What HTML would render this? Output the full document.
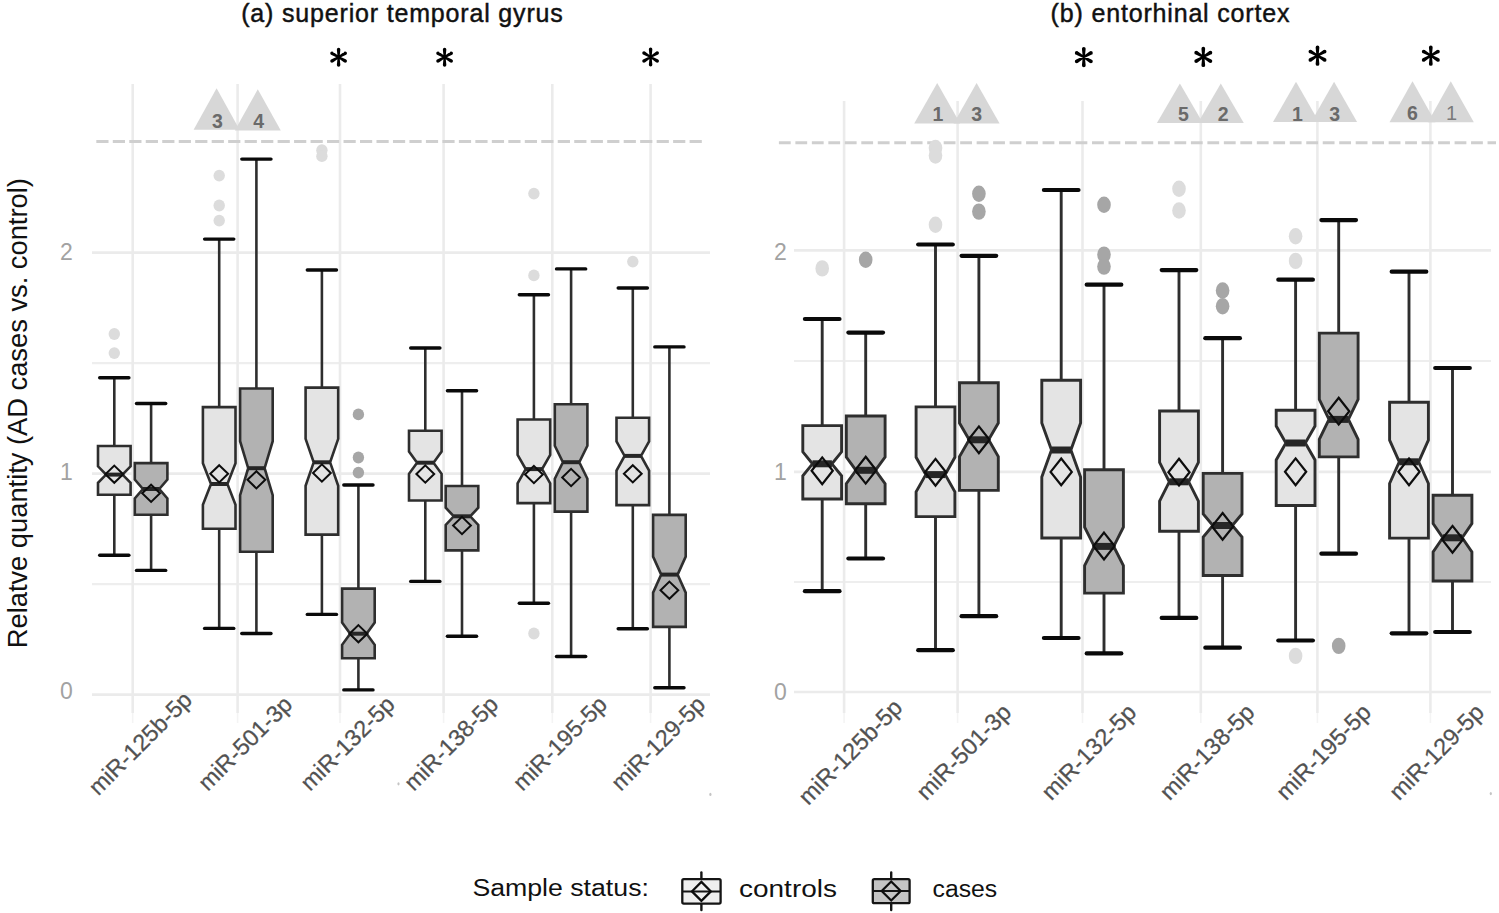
<!DOCTYPE html>
<html><head><meta charset="utf-8"><title>Relative quantity boxplots</title>
<style>html,body{margin:0;padding:0;background:#fff;}svg{display:block;}
text{font-family:"Liberation Sans",sans-serif;}</style></head>
<body>
<svg width="1499" height="913" viewBox="0 0 1499 913">
<rect width="1499" height="913" fill="#fff"/>
<g font-family="Liberation Sans, sans-serif">
<line x1="92" y1="252.7" x2="710" y2="252.7" stroke="#ebebeb" stroke-width="2.7"/>
<line x1="92" y1="363.2" x2="710" y2="363.2" stroke="#eeeeee" stroke-width="2.2"/>
<line x1="92" y1="473.7" x2="710" y2="473.7" stroke="#ebebeb" stroke-width="2.7"/>
<line x1="92" y1="584.2" x2="710" y2="584.2" stroke="#eeeeee" stroke-width="2.2"/>
<line x1="92" y1="694.7" x2="710" y2="694.7" stroke="#ebebeb" stroke-width="2.7"/>
<line x1="132.7" y1="84" x2="132.7" y2="713" stroke="#ebebeb" stroke-width="2.6"/>
<line x1="132.7" y1="713" x2="132.7" y2="723" stroke="#f4f4f4" stroke-width="1.6"/>
<line x1="237.6" y1="84" x2="237.6" y2="713" stroke="#ebebeb" stroke-width="2.6"/>
<line x1="237.6" y1="713" x2="237.6" y2="723" stroke="#f4f4f4" stroke-width="1.6"/>
<line x1="340" y1="84" x2="340" y2="713" stroke="#ebebeb" stroke-width="2.6"/>
<line x1="340" y1="713" x2="340" y2="723" stroke="#f4f4f4" stroke-width="1.6"/>
<line x1="443.6" y1="84" x2="443.6" y2="713" stroke="#ebebeb" stroke-width="2.6"/>
<line x1="443.6" y1="713" x2="443.6" y2="723" stroke="#f4f4f4" stroke-width="1.6"/>
<line x1="552.3" y1="84" x2="552.3" y2="713" stroke="#ebebeb" stroke-width="2.6"/>
<line x1="552.3" y1="713" x2="552.3" y2="723" stroke="#f4f4f4" stroke-width="1.6"/>
<line x1="650.6" y1="84" x2="650.6" y2="713" stroke="#ebebeb" stroke-width="2.6"/>
<line x1="650.6" y1="713" x2="650.6" y2="723" stroke="#f4f4f4" stroke-width="1.6"/>
<line x1="794" y1="250.3" x2="1491" y2="250.3" stroke="#ebebeb" stroke-width="2.7"/>
<line x1="794" y1="361" x2="1491" y2="361" stroke="#eeeeee" stroke-width="2.2"/>
<line x1="794" y1="471.8" x2="1491" y2="471.8" stroke="#ebebeb" stroke-width="2.7"/>
<line x1="794" y1="582" x2="1491" y2="582" stroke="#eeeeee" stroke-width="2.2"/>
<line x1="794" y1="692" x2="1491" y2="692" stroke="#ebebeb" stroke-width="2.7"/>
<line x1="844.1" y1="101" x2="844.1" y2="713" stroke="#ebebeb" stroke-width="2.6"/>
<line x1="844.1" y1="713" x2="844.1" y2="723" stroke="#f4f4f4" stroke-width="1.6"/>
<line x1="957.6" y1="101" x2="957.6" y2="713" stroke="#ebebeb" stroke-width="2.6"/>
<line x1="957.6" y1="713" x2="957.6" y2="723" stroke="#f4f4f4" stroke-width="1.6"/>
<line x1="1082.5" y1="101" x2="1082.5" y2="713" stroke="#ebebeb" stroke-width="2.6"/>
<line x1="1082.5" y1="713" x2="1082.5" y2="723" stroke="#f4f4f4" stroke-width="1.6"/>
<line x1="1200.8" y1="101" x2="1200.8" y2="713" stroke="#ebebeb" stroke-width="2.6"/>
<line x1="1200.8" y1="713" x2="1200.8" y2="723" stroke="#f4f4f4" stroke-width="1.6"/>
<line x1="1317.4" y1="101" x2="1317.4" y2="713" stroke="#ebebeb" stroke-width="2.6"/>
<line x1="1317.4" y1="713" x2="1317.4" y2="723" stroke="#f4f4f4" stroke-width="1.6"/>
<line x1="1430.4" y1="101" x2="1430.4" y2="713" stroke="#ebebeb" stroke-width="2.6"/>
<line x1="1430.4" y1="713" x2="1430.4" y2="723" stroke="#f4f4f4" stroke-width="1.6"/>
<line x1="92.8" y1="141.6" x2="702" y2="141.6" stroke="#cfcfcf" stroke-width="3" stroke-dasharray="12.2 4.28" stroke-dashoffset="12.96"/>
<line x1="778.9" y1="142.8" x2="1496" y2="142.8" stroke="#cfcfcf" stroke-width="3" stroke-dasharray="11.8 4.68"/>
<path d="M216.6,88.2 L239.6,129.8 L193.6,129.8 Z" fill="#d7d7d7"/>
<path d="M257.8,89.2 L280.8,130.4 L234.8,130.4 Z" fill="#d7d7d7"/>
<path d="M937.2,83 L960.2,123.4 L914.2,123.4 Z" fill="#d7d7d7"/>
<path d="M976.6,83 L999.6,123.4 L953.6,123.4 Z" fill="#d7d7d7"/>
<path d="M1179.9,83.4 L1202.9,123.1 L1156.9,123.1 Z" fill="#d7d7d7"/>
<path d="M1220.8,83.4 L1243.8,123.1 L1197.8,123.1 Z" fill="#d7d7d7"/>
<path d="M1296,81.7 L1319,122.1 L1273,122.1 Z" fill="#d7d7d7"/>
<path d="M1334.1,81.7 L1357.1,122.1 L1311.1,122.1 Z" fill="#d7d7d7"/>
<path d="M1412.5,81.3 L1435.5,122.3 L1389.5,122.3 Z" fill="#d7d7d7"/>
<path d="M1450.8,81.3 L1473.8,122.3 L1427.8,122.3 Z" fill="#d7d7d7"/>
<text x="217.4" y="120.7" text-anchor="middle" dominant-baseline="central" font-size="19.5" font-weight="bold" fill="#6a6a6a">3</text>
<text x="258.6" y="120.7" text-anchor="middle" dominant-baseline="central" font-size="19.5" font-weight="bold" fill="#6a6a6a">4</text>
<text x="938" y="114.4" text-anchor="middle" dominant-baseline="central" font-size="19.5" font-weight="bold" fill="#6a6a6a">1</text>
<text x="976.6" y="114.4" text-anchor="middle" dominant-baseline="central" font-size="19.5" font-weight="bold" fill="#6a6a6a">3</text>
<text x="1183.4" y="114.2" text-anchor="middle" dominant-baseline="central" font-size="19.5" font-weight="bold" fill="#6a6a6a">5</text>
<text x="1223.2" y="114.2" text-anchor="middle" dominant-baseline="central" font-size="19.5" font-weight="bold" fill="#6a6a6a">2</text>
<text x="1297.5" y="114.2" text-anchor="middle" dominant-baseline="central" font-size="19.5" font-weight="bold" fill="#6a6a6a">1</text>
<text x="1334.8" y="114.2" text-anchor="middle" dominant-baseline="central" font-size="19.5" font-weight="bold" fill="#6a6a6a">3</text>
<text x="1412.5" y="112.9" text-anchor="middle" dominant-baseline="central" font-size="19.5" font-weight="bold" fill="#6a6a6a">6</text>
<text x="1451.5" y="112.9" text-anchor="middle" dominant-baseline="central" font-size="20" fill="#7a7a7a">1</text>
<path d="M339.6,57.2 L340.35,49.5 L336.85,49.5 L337.6,57.2 Z M336.85,49.5 a1.75,1.75 0 1,0 3.5,0 a1.75,1.75 0 1,0 -3.5,0 M337.6,57.2 L336.85,64.9 L340.35,64.9 L339.6,57.2 Z M336.85,64.9 a1.75,1.75 0 1,0 3.5,0 a1.75,1.75 0 1,0 -3.5,0 M339.12,58.06 L346.15,54.79 L344.34,51.79 L338.08,56.34 Z M343.49,53.29 a1.75,1.75 0 1,0 3.5,0 a1.75,1.75 0 1,0 -3.5,0 M338.08,56.34 L331.05,59.61 L332.86,62.61 L339.12,58.06 Z M330.21,61.11 a1.75,1.75 0 1,0 3.5,0 a1.75,1.75 0 1,0 -3.5,0 M338.08,58.06 L344.34,62.61 L346.15,59.61 L339.12,56.34 Z M343.49,61.11 a1.75,1.75 0 1,0 3.5,0 a1.75,1.75 0 1,0 -3.5,0 M339.12,56.34 L332.86,51.79 L331.05,54.79 L338.08,58.06 Z M330.21,53.29 a1.75,1.75 0 1,0 3.5,0 a1.75,1.75 0 1,0 -3.5,0 M336.9,57.2 a1.7,1.7 0 1,0 3.4,0 a1.7,1.7 0 1,0 -3.4,0" fill="#000"/>
<path d="M445.6,57.2 L446.35,49.5 L442.85,49.5 L443.6,57.2 Z M442.85,49.5 a1.75,1.75 0 1,0 3.5,0 a1.75,1.75 0 1,0 -3.5,0 M443.6,57.2 L442.85,64.9 L446.35,64.9 L445.6,57.2 Z M442.85,64.9 a1.75,1.75 0 1,0 3.5,0 a1.75,1.75 0 1,0 -3.5,0 M445.12,58.06 L452.15,54.79 L450.34,51.79 L444.08,56.34 Z M449.49,53.29 a1.75,1.75 0 1,0 3.5,0 a1.75,1.75 0 1,0 -3.5,0 M444.08,56.34 L437.05,59.61 L438.86,62.61 L445.12,58.06 Z M436.21,61.11 a1.75,1.75 0 1,0 3.5,0 a1.75,1.75 0 1,0 -3.5,0 M444.08,58.06 L450.34,62.61 L452.15,59.61 L445.12,56.34 Z M449.49,61.11 a1.75,1.75 0 1,0 3.5,0 a1.75,1.75 0 1,0 -3.5,0 M445.12,56.34 L438.86,51.79 L437.05,54.79 L444.08,58.06 Z M436.21,53.29 a1.75,1.75 0 1,0 3.5,0 a1.75,1.75 0 1,0 -3.5,0 M442.9,57.2 a1.7,1.7 0 1,0 3.4,0 a1.7,1.7 0 1,0 -3.4,0" fill="#000"/>
<path d="M651.6,57 L652.35,49.3 L648.85,49.3 L649.6,57 Z M648.85,49.3 a1.75,1.75 0 1,0 3.5,0 a1.75,1.75 0 1,0 -3.5,0 M649.6,57 L648.85,64.7 L652.35,64.7 L651.6,57 Z M648.85,64.7 a1.75,1.75 0 1,0 3.5,0 a1.75,1.75 0 1,0 -3.5,0 M651.12,57.86 L658.15,54.59 L656.34,51.59 L650.08,56.14 Z M655.49,53.09 a1.75,1.75 0 1,0 3.5,0 a1.75,1.75 0 1,0 -3.5,0 M650.08,56.14 L643.05,59.41 L644.86,62.41 L651.12,57.86 Z M642.21,60.91 a1.75,1.75 0 1,0 3.5,0 a1.75,1.75 0 1,0 -3.5,0 M650.08,57.86 L656.34,62.41 L658.15,59.41 L651.12,56.14 Z M655.49,60.91 a1.75,1.75 0 1,0 3.5,0 a1.75,1.75 0 1,0 -3.5,0 M651.12,56.14 L644.86,51.59 L643.05,54.59 L650.08,57.86 Z M642.21,53.09 a1.75,1.75 0 1,0 3.5,0 a1.75,1.75 0 1,0 -3.5,0 M648.9,57 a1.7,1.7 0 1,0 3.4,0 a1.7,1.7 0 1,0 -3.4,0" fill="#000"/>
<path d="M1084.87,57.1 L1085.67,48.86 L1081.93,48.86 L1082.73,57.1 Z M1081.93,48.86 a1.87,1.87 0 1,0 3.75,0 a1.87,1.87 0 1,0 -3.75,0 M1082.73,57.1 L1081.93,65.34 L1085.67,65.34 L1084.87,57.1 Z M1081.93,65.34 a1.87,1.87 0 1,0 3.75,0 a1.87,1.87 0 1,0 -3.75,0 M1084.35,58.02 L1091.87,54.52 L1089.95,51.31 L1083.25,56.18 Z M1089.04,52.91 a1.87,1.87 0 1,0 3.75,0 a1.87,1.87 0 1,0 -3.75,0 M1083.25,56.18 L1075.73,59.68 L1077.65,62.89 L1084.35,58.02 Z M1074.82,61.29 a1.87,1.87 0 1,0 3.75,0 a1.87,1.87 0 1,0 -3.75,0 M1083.25,58.02 L1089.95,62.89 L1091.87,59.68 L1084.35,56.18 Z M1089.04,61.29 a1.87,1.87 0 1,0 3.75,0 a1.87,1.87 0 1,0 -3.75,0 M1084.35,56.18 L1077.65,51.31 L1075.73,54.52 L1083.25,58.02 Z M1074.82,52.91 a1.87,1.87 0 1,0 3.75,0 a1.87,1.87 0 1,0 -3.75,0 M1082.1,57.1 a1.7,1.7 0 1,0 3.4,0 a1.7,1.7 0 1,0 -3.4,0" fill="#000"/>
<path d="M1204.37,56.9 L1205.17,48.66 L1201.43,48.66 L1202.23,56.9 Z M1201.43,48.66 a1.87,1.87 0 1,0 3.75,0 a1.87,1.87 0 1,0 -3.75,0 M1202.23,56.9 L1201.43,65.14 L1205.17,65.14 L1204.37,56.9 Z M1201.43,65.14 a1.87,1.87 0 1,0 3.75,0 a1.87,1.87 0 1,0 -3.75,0 M1203.85,57.82 L1211.37,54.32 L1209.45,51.11 L1202.75,55.98 Z M1208.54,52.71 a1.87,1.87 0 1,0 3.75,0 a1.87,1.87 0 1,0 -3.75,0 M1202.75,55.98 L1195.23,59.48 L1197.15,62.69 L1203.85,57.82 Z M1194.32,61.09 a1.87,1.87 0 1,0 3.75,0 a1.87,1.87 0 1,0 -3.75,0 M1202.75,57.82 L1209.45,62.69 L1211.37,59.48 L1203.85,55.98 Z M1208.54,61.09 a1.87,1.87 0 1,0 3.75,0 a1.87,1.87 0 1,0 -3.75,0 M1203.85,55.98 L1197.15,51.11 L1195.23,54.32 L1202.75,57.82 Z M1194.32,52.71 a1.87,1.87 0 1,0 3.75,0 a1.87,1.87 0 1,0 -3.75,0 M1201.6,56.9 a1.7,1.7 0 1,0 3.4,0 a1.7,1.7 0 1,0 -3.4,0" fill="#000"/>
<path d="M1318.57,55.7 L1319.37,47.46 L1315.63,47.46 L1316.43,55.7 Z M1315.63,47.46 a1.87,1.87 0 1,0 3.75,0 a1.87,1.87 0 1,0 -3.75,0 M1316.43,55.7 L1315.63,63.94 L1319.37,63.94 L1318.57,55.7 Z M1315.63,63.94 a1.87,1.87 0 1,0 3.75,0 a1.87,1.87 0 1,0 -3.75,0 M1318.05,56.62 L1325.57,53.12 L1323.65,49.91 L1316.95,54.78 Z M1322.74,51.51 a1.87,1.87 0 1,0 3.75,0 a1.87,1.87 0 1,0 -3.75,0 M1316.95,54.78 L1309.43,58.28 L1311.35,61.49 L1318.05,56.62 Z M1308.52,59.89 a1.87,1.87 0 1,0 3.75,0 a1.87,1.87 0 1,0 -3.75,0 M1316.95,56.62 L1323.65,61.49 L1325.57,58.28 L1318.05,54.78 Z M1322.74,59.89 a1.87,1.87 0 1,0 3.75,0 a1.87,1.87 0 1,0 -3.75,0 M1318.05,54.78 L1311.35,49.91 L1309.43,53.12 L1316.95,56.62 Z M1308.52,51.51 a1.87,1.87 0 1,0 3.75,0 a1.87,1.87 0 1,0 -3.75,0 M1315.8,55.7 a1.7,1.7 0 1,0 3.4,0 a1.7,1.7 0 1,0 -3.4,0" fill="#000"/>
<path d="M1431.87,55.7 L1432.67,47.46 L1428.93,47.46 L1429.73,55.7 Z M1428.93,47.46 a1.87,1.87 0 1,0 3.75,0 a1.87,1.87 0 1,0 -3.75,0 M1429.73,55.7 L1428.93,63.94 L1432.67,63.94 L1431.87,55.7 Z M1428.93,63.94 a1.87,1.87 0 1,0 3.75,0 a1.87,1.87 0 1,0 -3.75,0 M1431.35,56.62 L1438.87,53.12 L1436.95,49.91 L1430.25,54.78 Z M1436.04,51.51 a1.87,1.87 0 1,0 3.75,0 a1.87,1.87 0 1,0 -3.75,0 M1430.25,54.78 L1422.73,58.28 L1424.65,61.49 L1431.35,56.62 Z M1421.82,59.89 a1.87,1.87 0 1,0 3.75,0 a1.87,1.87 0 1,0 -3.75,0 M1430.25,56.62 L1436.95,61.49 L1438.87,58.28 L1431.35,54.78 Z M1436.04,59.89 a1.87,1.87 0 1,0 3.75,0 a1.87,1.87 0 1,0 -3.75,0 M1431.35,54.78 L1424.65,49.91 L1422.73,53.12 L1430.25,56.62 Z M1421.82,51.51 a1.87,1.87 0 1,0 3.75,0 a1.87,1.87 0 1,0 -3.75,0 M1429.1,55.7 a1.7,1.7 0 1,0 3.4,0 a1.7,1.7 0 1,0 -3.4,0" fill="#000"/>
<line x1="114.3" y1="377.8" x2="114.3" y2="446" stroke="#2e2e2e" stroke-width="2.6"/>
<line x1="114.3" y1="494.8" x2="114.3" y2="555.2" stroke="#2e2e2e" stroke-width="2.6"/>
<line x1="99.7" y1="377.8" x2="128.9" y2="377.8" stroke="#0a0a0a" stroke-width="3.4" stroke-linecap="round"/>
<line x1="99.7" y1="555.2" x2="128.9" y2="555.2" stroke="#0a0a0a" stroke-width="3.4" stroke-linecap="round"/>
<line x1="151.1" y1="403.5" x2="151.1" y2="463.1" stroke="#2e2e2e" stroke-width="2.6"/>
<line x1="151.1" y1="514.7" x2="151.1" y2="570.4" stroke="#2e2e2e" stroke-width="2.6"/>
<line x1="136.5" y1="403.5" x2="165.7" y2="403.5" stroke="#0a0a0a" stroke-width="3.4" stroke-linecap="round"/>
<line x1="136.5" y1="570.4" x2="165.7" y2="570.4" stroke="#0a0a0a" stroke-width="3.4" stroke-linecap="round"/>
<line x1="219.2" y1="239.1" x2="219.2" y2="407.1" stroke="#2e2e2e" stroke-width="2.6"/>
<line x1="219.2" y1="528.7" x2="219.2" y2="628.4" stroke="#2e2e2e" stroke-width="2.6"/>
<line x1="204.6" y1="239.1" x2="233.8" y2="239.1" stroke="#0a0a0a" stroke-width="3.4" stroke-linecap="round"/>
<line x1="204.6" y1="628.4" x2="233.8" y2="628.4" stroke="#0a0a0a" stroke-width="3.4" stroke-linecap="round"/>
<line x1="256.4" y1="159.1" x2="256.4" y2="388.5" stroke="#2e2e2e" stroke-width="2.6"/>
<line x1="256.4" y1="551.7" x2="256.4" y2="633.5" stroke="#2e2e2e" stroke-width="2.6"/>
<line x1="241.8" y1="159.1" x2="271" y2="159.1" stroke="#0a0a0a" stroke-width="3.4" stroke-linecap="round"/>
<line x1="241.8" y1="633.5" x2="271" y2="633.5" stroke="#0a0a0a" stroke-width="3.4" stroke-linecap="round"/>
<line x1="321.9" y1="270" x2="321.9" y2="387.6" stroke="#2e2e2e" stroke-width="2.6"/>
<line x1="321.9" y1="534.6" x2="321.9" y2="614.4" stroke="#2e2e2e" stroke-width="2.6"/>
<line x1="307.3" y1="270" x2="336.5" y2="270" stroke="#0a0a0a" stroke-width="3.4" stroke-linecap="round"/>
<line x1="307.3" y1="614.4" x2="336.5" y2="614.4" stroke="#0a0a0a" stroke-width="3.4" stroke-linecap="round"/>
<line x1="358.4" y1="485" x2="358.4" y2="588.6" stroke="#2e2e2e" stroke-width="2.6"/>
<line x1="358.4" y1="658.3" x2="358.4" y2="689.9" stroke="#2e2e2e" stroke-width="2.6"/>
<line x1="343.8" y1="485" x2="373" y2="485" stroke="#0a0a0a" stroke-width="3.4" stroke-linecap="round"/>
<line x1="343.8" y1="689.9" x2="373" y2="689.9" stroke="#0a0a0a" stroke-width="3.4" stroke-linecap="round"/>
<line x1="425.3" y1="348" x2="425.3" y2="430.7" stroke="#2e2e2e" stroke-width="2.6"/>
<line x1="425.3" y1="500.5" x2="425.3" y2="581.4" stroke="#2e2e2e" stroke-width="2.6"/>
<line x1="410.7" y1="348" x2="439.9" y2="348" stroke="#0a0a0a" stroke-width="3.4" stroke-linecap="round"/>
<line x1="410.7" y1="581.4" x2="439.9" y2="581.4" stroke="#0a0a0a" stroke-width="3.4" stroke-linecap="round"/>
<line x1="462" y1="390.7" x2="462" y2="486" stroke="#2e2e2e" stroke-width="2.6"/>
<line x1="462" y1="550.4" x2="462" y2="636.3" stroke="#2e2e2e" stroke-width="2.6"/>
<line x1="447.4" y1="390.7" x2="476.6" y2="390.7" stroke="#0a0a0a" stroke-width="3.4" stroke-linecap="round"/>
<line x1="447.4" y1="636.3" x2="476.6" y2="636.3" stroke="#0a0a0a" stroke-width="3.4" stroke-linecap="round"/>
<line x1="533.9" y1="294.8" x2="533.9" y2="419.5" stroke="#2e2e2e" stroke-width="2.6"/>
<line x1="533.9" y1="503.1" x2="533.9" y2="603.3" stroke="#2e2e2e" stroke-width="2.6"/>
<line x1="519.3" y1="294.8" x2="548.5" y2="294.8" stroke="#0a0a0a" stroke-width="3.4" stroke-linecap="round"/>
<line x1="519.3" y1="603.3" x2="548.5" y2="603.3" stroke="#0a0a0a" stroke-width="3.4" stroke-linecap="round"/>
<line x1="571.1" y1="268.9" x2="571.1" y2="404.2" stroke="#2e2e2e" stroke-width="2.6"/>
<line x1="571.1" y1="511.6" x2="571.1" y2="656.5" stroke="#2e2e2e" stroke-width="2.6"/>
<line x1="556.5" y1="268.9" x2="585.7" y2="268.9" stroke="#0a0a0a" stroke-width="3.4" stroke-linecap="round"/>
<line x1="556.5" y1="656.5" x2="585.7" y2="656.5" stroke="#0a0a0a" stroke-width="3.4" stroke-linecap="round"/>
<line x1="632.8" y1="288" x2="632.8" y2="417.8" stroke="#2e2e2e" stroke-width="2.6"/>
<line x1="632.8" y1="505.1" x2="632.8" y2="628.7" stroke="#2e2e2e" stroke-width="2.6"/>
<line x1="618.2" y1="288" x2="647.4" y2="288" stroke="#0a0a0a" stroke-width="3.4" stroke-linecap="round"/>
<line x1="618.2" y1="628.7" x2="647.4" y2="628.7" stroke="#0a0a0a" stroke-width="3.4" stroke-linecap="round"/>
<line x1="669.4" y1="346.9" x2="669.4" y2="514.9" stroke="#2e2e2e" stroke-width="2.6"/>
<line x1="669.4" y1="626.9" x2="669.4" y2="687.7" stroke="#2e2e2e" stroke-width="2.6"/>
<line x1="654.8" y1="346.9" x2="684" y2="346.9" stroke="#0a0a0a" stroke-width="3.4" stroke-linecap="round"/>
<line x1="654.8" y1="687.7" x2="684" y2="687.7" stroke="#0a0a0a" stroke-width="3.4" stroke-linecap="round"/>
<ellipse cx="114.3" cy="334" rx="5.7" ry="5.9" fill="#dcdcdc"/>
<ellipse cx="114.3" cy="353.1" rx="5.7" ry="5.9" fill="#dcdcdc"/>
<ellipse cx="219.2" cy="175.6" rx="5.7" ry="5.9" fill="#dcdcdc"/>
<ellipse cx="219.2" cy="205.5" rx="5.7" ry="5.9" fill="#dcdcdc"/>
<ellipse cx="219.2" cy="220.6" rx="5.7" ry="5.9" fill="#dcdcdc"/>
<ellipse cx="321.9" cy="150.2" rx="5.7" ry="5.9" fill="#dcdcdc"/>
<ellipse cx="321.9" cy="156.2" rx="5.7" ry="5.9" fill="#dcdcdc"/>
<ellipse cx="358.4" cy="414.4" rx="5.7" ry="5.9" fill="#a6a6a6"/>
<ellipse cx="358.4" cy="457.5" rx="5.7" ry="5.9" fill="#a6a6a6"/>
<ellipse cx="358.4" cy="472.6" rx="5.7" ry="5.9" fill="#a6a6a6"/>
<ellipse cx="533.9" cy="193.6" rx="5.7" ry="5.9" fill="#dcdcdc"/>
<ellipse cx="533.9" cy="275.4" rx="5.7" ry="5.9" fill="#dcdcdc"/>
<ellipse cx="533.9" cy="633.5" rx="5.7" ry="5.9" fill="#dcdcdc"/>
<ellipse cx="632.8" cy="261.6" rx="5.7" ry="5.9" fill="#dcdcdc"/>
<path d="M98,446 L130.6,446 L130.6,466.3 L122.5,474.6 L130.6,482.9 L130.6,494.8 L98,494.8 L98,482.9 L106.1,474.6 L98,466.3 Z" fill="#e4e4e4" stroke="#2e2e2e" stroke-width="2.6" stroke-linejoin="miter"/>
<line x1="106.1" y1="474.6" x2="122.5" y2="474.6" stroke="#262626" stroke-width="4"/>
<path d="M134.8,463.1 L167.4,463.1 L167.4,479.5 L159.3,489 L167.4,498.5 L167.4,514.7 L134.8,514.7 L134.8,498.5 L142.9,489 L134.8,479.5 Z" fill="#b2b2b2" stroke="#2e2e2e" stroke-width="2.6" stroke-linejoin="miter"/>
<line x1="142.9" y1="489" x2="159.3" y2="489" stroke="#262626" stroke-width="4"/>
<path d="M202.9,407.1 L235.5,407.1 L235.5,463.3 L227.4,484 L235.5,504.7 L235.5,528.7 L202.9,528.7 L202.9,504.7 L211,484 L202.9,463.3 Z" fill="#e4e4e4" stroke="#2e2e2e" stroke-width="2.6" stroke-linejoin="miter"/>
<line x1="211" y1="484" x2="227.4" y2="484" stroke="#262626" stroke-width="4"/>
<path d="M240.1,388.5 L272.7,388.5 L272.7,441.2 L264.6,468.2 L272.7,495.2 L272.7,551.7 L240.1,551.7 L240.1,495.2 L248.2,468.2 L240.1,441.2 Z" fill="#b2b2b2" stroke="#2e2e2e" stroke-width="2.6" stroke-linejoin="miter"/>
<line x1="248.2" y1="468.2" x2="264.6" y2="468.2" stroke="#262626" stroke-width="4"/>
<path d="M305.6,387.6 L338.2,387.6 L338.2,438.8 L330.1,462.3 L338.2,485.8 L338.2,534.6 L305.6,534.6 L305.6,485.8 L313.7,462.3 L305.6,438.8 Z" fill="#e4e4e4" stroke="#2e2e2e" stroke-width="2.6" stroke-linejoin="miter"/>
<line x1="313.7" y1="462.3" x2="330.1" y2="462.3" stroke="#262626" stroke-width="4"/>
<path d="M342.1,588.6 L374.7,588.6 L374.7,622.6 L366.6,633.7 L374.7,644.8 L374.7,658.3 L342.1,658.3 L342.1,644.8 L350.2,633.7 L342.1,622.6 Z" fill="#b2b2b2" stroke="#2e2e2e" stroke-width="2.6" stroke-linejoin="miter"/>
<line x1="350.2" y1="633.7" x2="366.6" y2="633.7" stroke="#262626" stroke-width="4"/>
<path d="M409,430.7 L441.6,430.7 L441.6,451.6 L433.5,462.7 L441.6,473.8 L441.6,500.5 L409,500.5 L409,473.8 L417.1,462.7 L409,451.6 Z" fill="#e4e4e4" stroke="#2e2e2e" stroke-width="2.6" stroke-linejoin="miter"/>
<line x1="417.1" y1="462.7" x2="433.5" y2="462.7" stroke="#262626" stroke-width="4"/>
<path d="M445.7,486 L478.3,486 L478.3,507.7 L470.2,516.3 L478.3,524.9 L478.3,550.4 L445.7,550.4 L445.7,524.9 L453.8,516.3 L445.7,507.7 Z" fill="#b2b2b2" stroke="#2e2e2e" stroke-width="2.6" stroke-linejoin="miter"/>
<line x1="453.8" y1="516.3" x2="470.2" y2="516.3" stroke="#262626" stroke-width="4"/>
<path d="M517.6,419.5 L550.2,419.5 L550.2,454.9 L542.1,469.1 L550.2,483.3 L550.2,503.1 L517.6,503.1 L517.6,483.3 L525.7,469.1 L517.6,454.9 Z" fill="#e4e4e4" stroke="#2e2e2e" stroke-width="2.6" stroke-linejoin="miter"/>
<line x1="525.7" y1="469.1" x2="542.1" y2="469.1" stroke="#262626" stroke-width="4"/>
<path d="M554.8,404.2 L587.4,404.2 L587.4,445.7 L579.3,462.2 L587.4,478.7 L587.4,511.6 L554.8,511.6 L554.8,478.7 L562.9,462.2 L554.8,445.7 Z" fill="#b2b2b2" stroke="#2e2e2e" stroke-width="2.6" stroke-linejoin="miter"/>
<line x1="562.9" y1="462.2" x2="579.3" y2="462.2" stroke="#262626" stroke-width="4"/>
<path d="M616.5,417.8 L649.1,417.8 L649.1,441.3 L641,455.9 L649.1,470.5 L649.1,505.1 L616.5,505.1 L616.5,470.5 L624.6,455.9 L616.5,441.3 Z" fill="#e4e4e4" stroke="#2e2e2e" stroke-width="2.6" stroke-linejoin="miter"/>
<line x1="624.6" y1="455.9" x2="641" y2="455.9" stroke="#262626" stroke-width="4"/>
<path d="M653.1,514.9 L685.7,514.9 L685.7,556.6 L677.6,574.6 L685.7,592.6 L685.7,626.9 L653.1,626.9 L653.1,592.6 L661.2,574.6 L653.1,556.6 Z" fill="#b2b2b2" stroke="#2e2e2e" stroke-width="2.6" stroke-linejoin="miter"/>
<line x1="661.2" y1="574.6" x2="677.6" y2="574.6" stroke="#262626" stroke-width="4"/>
<path d="M114.3,465.6 L123.2,474.2 L114.3,482.8 L105.4,474.2 Z" fill="none" stroke="#0d0d0d" stroke-width="2" stroke-linejoin="miter"/>
<path d="M151.1,484.7 L160,493.3 L151.1,501.9 L142.2,493.3 Z" fill="none" stroke="#0d0d0d" stroke-width="2" stroke-linejoin="miter"/>
<path d="M219.2,465.2 L228.1,473.8 L219.2,482.4 L210.3,473.8 Z" fill="none" stroke="#0d0d0d" stroke-width="2" stroke-linejoin="miter"/>
<path d="M256.4,471.2 L265.3,479.8 L256.4,488.4 L247.5,479.8 Z" fill="none" stroke="#0d0d0d" stroke-width="2" stroke-linejoin="miter"/>
<path d="M321.9,464.4 L330.8,473 L321.9,481.6 L313,473 Z" fill="none" stroke="#0d0d0d" stroke-width="2" stroke-linejoin="miter"/>
<path d="M358.4,625.1 L367.3,633.7 L358.4,642.3 L349.5,633.7 Z" fill="none" stroke="#0d0d0d" stroke-width="2" stroke-linejoin="miter"/>
<path d="M425.3,465.4 L434.2,474 L425.3,482.6 L416.4,474 Z" fill="none" stroke="#0d0d0d" stroke-width="2" stroke-linejoin="miter"/>
<path d="M462,516.9 L470.9,525.5 L462,534.1 L453.1,525.5 Z" fill="none" stroke="#0d0d0d" stroke-width="2" stroke-linejoin="miter"/>
<path d="M533.9,465.9 L542.8,474.5 L533.9,483.1 L525,474.5 Z" fill="none" stroke="#0d0d0d" stroke-width="2" stroke-linejoin="miter"/>
<path d="M571.1,468.9 L580,477.5 L571.1,486.1 L562.2,477.5 Z" fill="none" stroke="#0d0d0d" stroke-width="2" stroke-linejoin="miter"/>
<path d="M632.8,465.2 L641.7,473.8 L632.8,482.4 L623.9,473.8 Z" fill="none" stroke="#0d0d0d" stroke-width="2" stroke-linejoin="miter"/>
<path d="M669.4,581.6 L678.3,590.2 L669.4,598.8 L660.5,590.2 Z" fill="none" stroke="#0d0d0d" stroke-width="2" stroke-linejoin="miter"/>
<line x1="822.2" y1="319" x2="822.2" y2="425.6" stroke="#2e2e2e" stroke-width="2.9"/>
<line x1="822.2" y1="499" x2="822.2" y2="591.2" stroke="#2e2e2e" stroke-width="2.9"/>
<line x1="804.9" y1="319" x2="839.5" y2="319" stroke="#0a0a0a" stroke-width="4.2" stroke-linecap="round"/>
<line x1="804.9" y1="591.2" x2="839.5" y2="591.2" stroke="#0a0a0a" stroke-width="4.2" stroke-linecap="round"/>
<line x1="865.7" y1="332.6" x2="865.7" y2="416" stroke="#2e2e2e" stroke-width="2.9"/>
<line x1="865.7" y1="503.8" x2="865.7" y2="558.5" stroke="#2e2e2e" stroke-width="2.9"/>
<line x1="848.4" y1="332.6" x2="883" y2="332.6" stroke="#0a0a0a" stroke-width="4.2" stroke-linecap="round"/>
<line x1="848.4" y1="558.5" x2="883" y2="558.5" stroke="#0a0a0a" stroke-width="4.2" stroke-linecap="round"/>
<line x1="935.5" y1="244.5" x2="935.5" y2="406.9" stroke="#2e2e2e" stroke-width="2.9"/>
<line x1="935.5" y1="516.6" x2="935.5" y2="650.2" stroke="#2e2e2e" stroke-width="2.9"/>
<line x1="918.2" y1="244.5" x2="952.8" y2="244.5" stroke="#0a0a0a" stroke-width="4.2" stroke-linecap="round"/>
<line x1="918.2" y1="650.2" x2="952.8" y2="650.2" stroke="#0a0a0a" stroke-width="4.2" stroke-linecap="round"/>
<line x1="978.9" y1="255.8" x2="978.9" y2="382.7" stroke="#2e2e2e" stroke-width="2.9"/>
<line x1="978.9" y1="490.4" x2="978.9" y2="616.2" stroke="#2e2e2e" stroke-width="2.9"/>
<line x1="961.6" y1="255.8" x2="996.2" y2="255.8" stroke="#0a0a0a" stroke-width="4.2" stroke-linecap="round"/>
<line x1="961.6" y1="616.2" x2="996.2" y2="616.2" stroke="#0a0a0a" stroke-width="4.2" stroke-linecap="round"/>
<line x1="1061.2" y1="190" x2="1061.2" y2="380.3" stroke="#2e2e2e" stroke-width="2.9"/>
<line x1="1061.2" y1="538" x2="1061.2" y2="638" stroke="#2e2e2e" stroke-width="2.9"/>
<line x1="1043.9" y1="190" x2="1078.5" y2="190" stroke="#0a0a0a" stroke-width="4.2" stroke-linecap="round"/>
<line x1="1043.9" y1="638" x2="1078.5" y2="638" stroke="#0a0a0a" stroke-width="4.2" stroke-linecap="round"/>
<line x1="1104" y1="284.7" x2="1104" y2="469.8" stroke="#2e2e2e" stroke-width="2.9"/>
<line x1="1104" y1="593.1" x2="1104" y2="653.4" stroke="#2e2e2e" stroke-width="2.9"/>
<line x1="1086.7" y1="284.7" x2="1121.3" y2="284.7" stroke="#0a0a0a" stroke-width="4.2" stroke-linecap="round"/>
<line x1="1086.7" y1="653.4" x2="1121.3" y2="653.4" stroke="#0a0a0a" stroke-width="4.2" stroke-linecap="round"/>
<line x1="1179" y1="270.1" x2="1179" y2="411" stroke="#2e2e2e" stroke-width="2.9"/>
<line x1="1179" y1="531.2" x2="1179" y2="617.9" stroke="#2e2e2e" stroke-width="2.9"/>
<line x1="1161.7" y1="270.1" x2="1196.3" y2="270.1" stroke="#0a0a0a" stroke-width="4.2" stroke-linecap="round"/>
<line x1="1161.7" y1="617.9" x2="1196.3" y2="617.9" stroke="#0a0a0a" stroke-width="4.2" stroke-linecap="round"/>
<line x1="1222.6" y1="338.2" x2="1222.6" y2="473.4" stroke="#2e2e2e" stroke-width="2.9"/>
<line x1="1222.6" y1="575.5" x2="1222.6" y2="647.7" stroke="#2e2e2e" stroke-width="2.9"/>
<line x1="1205.3" y1="338.2" x2="1239.9" y2="338.2" stroke="#0a0a0a" stroke-width="4.2" stroke-linecap="round"/>
<line x1="1205.3" y1="647.7" x2="1239.9" y2="647.7" stroke="#0a0a0a" stroke-width="4.2" stroke-linecap="round"/>
<line x1="1295.6" y1="279.7" x2="1295.6" y2="410.3" stroke="#2e2e2e" stroke-width="2.9"/>
<line x1="1295.6" y1="505.5" x2="1295.6" y2="640.5" stroke="#2e2e2e" stroke-width="2.9"/>
<line x1="1278.3" y1="279.7" x2="1312.9" y2="279.7" stroke="#0a0a0a" stroke-width="4.2" stroke-linecap="round"/>
<line x1="1278.3" y1="640.5" x2="1312.9" y2="640.5" stroke="#0a0a0a" stroke-width="4.2" stroke-linecap="round"/>
<line x1="1338.7" y1="220.1" x2="1338.7" y2="333.1" stroke="#2e2e2e" stroke-width="2.9"/>
<line x1="1338.7" y1="456.9" x2="1338.7" y2="553.7" stroke="#2e2e2e" stroke-width="2.9"/>
<line x1="1321.4" y1="220.1" x2="1356" y2="220.1" stroke="#0a0a0a" stroke-width="4.2" stroke-linecap="round"/>
<line x1="1321.4" y1="553.7" x2="1356" y2="553.7" stroke="#0a0a0a" stroke-width="4.2" stroke-linecap="round"/>
<line x1="1409" y1="271.7" x2="1409" y2="402.3" stroke="#2e2e2e" stroke-width="2.9"/>
<line x1="1409" y1="538.1" x2="1409" y2="633.3" stroke="#2e2e2e" stroke-width="2.9"/>
<line x1="1391.7" y1="271.7" x2="1426.3" y2="271.7" stroke="#0a0a0a" stroke-width="4.2" stroke-linecap="round"/>
<line x1="1391.7" y1="633.3" x2="1426.3" y2="633.3" stroke="#0a0a0a" stroke-width="4.2" stroke-linecap="round"/>
<line x1="1452.5" y1="368" x2="1452.5" y2="495.2" stroke="#2e2e2e" stroke-width="2.9"/>
<line x1="1452.5" y1="581" x2="1452.5" y2="632" stroke="#2e2e2e" stroke-width="2.9"/>
<line x1="1435.2" y1="368" x2="1469.8" y2="368" stroke="#0a0a0a" stroke-width="4.2" stroke-linecap="round"/>
<line x1="1435.2" y1="632" x2="1469.8" y2="632" stroke="#0a0a0a" stroke-width="4.2" stroke-linecap="round"/>
<ellipse cx="822.2" cy="268.4" rx="6.8" ry="8.2" fill="#dcdcdc"/>
<ellipse cx="865.7" cy="259.7" rx="6.8" ry="8.2" fill="#a6a6a6"/>
<ellipse cx="935.5" cy="148" rx="6.8" ry="8.2" fill="#dcdcdc"/>
<ellipse cx="935.5" cy="155.5" rx="6.8" ry="8.2" fill="#dcdcdc"/>
<ellipse cx="935.5" cy="224.7" rx="6.8" ry="8.2" fill="#dcdcdc"/>
<ellipse cx="978.9" cy="193.7" rx="6.8" ry="8.2" fill="#a6a6a6"/>
<ellipse cx="978.9" cy="211.6" rx="6.8" ry="8.2" fill="#a6a6a6"/>
<ellipse cx="1104" cy="204.7" rx="6.8" ry="8.2" fill="#a6a6a6"/>
<ellipse cx="1104" cy="254.6" rx="6.8" ry="8.2" fill="#a6a6a6"/>
<ellipse cx="1104" cy="266.6" rx="6.8" ry="8.2" fill="#a6a6a6"/>
<ellipse cx="1179" cy="188.8" rx="6.8" ry="8.2" fill="#dcdcdc"/>
<ellipse cx="1179" cy="210.5" rx="6.8" ry="8.2" fill="#dcdcdc"/>
<ellipse cx="1222.6" cy="290.5" rx="6.8" ry="8.2" fill="#a6a6a6"/>
<ellipse cx="1222.6" cy="306.2" rx="6.8" ry="8.2" fill="#a6a6a6"/>
<ellipse cx="1295.6" cy="236.2" rx="6.8" ry="8.2" fill="#dcdcdc"/>
<ellipse cx="1295.6" cy="260.9" rx="6.8" ry="8.2" fill="#dcdcdc"/>
<ellipse cx="1295.6" cy="655.9" rx="6.8" ry="8.2" fill="#dcdcdc"/>
<ellipse cx="1338.7" cy="645.9" rx="6.8" ry="8.2" fill="#a6a6a6"/>
<path d="M802.8,425.6 L841.6,425.6 L841.6,451.8 L831.9,463.8 L841.6,475.8 L841.6,499 L802.8,499 L802.8,475.8 L812.5,463.8 L802.8,451.8 Z" fill="#e4e4e4" stroke="#2e2e2e" stroke-width="2.9" stroke-linejoin="miter"/>
<line x1="812.5" y1="463.8" x2="831.9" y2="463.8" stroke="#262626" stroke-width="7"/>
<path d="M846.3,416 L885.1,416 L885.1,457 L875.4,470.3 L885.1,483.6 L885.1,503.8 L846.3,503.8 L846.3,483.6 L856,470.3 L846.3,457 Z" fill="#b2b2b2" stroke="#2e2e2e" stroke-width="2.9" stroke-linejoin="miter"/>
<line x1="856" y1="470.3" x2="875.4" y2="470.3" stroke="#262626" stroke-width="7"/>
<path d="M916.1,406.9 L954.9,406.9 L954.9,457.3 L945.2,474.6 L954.9,491.9 L954.9,516.6 L916.1,516.6 L916.1,491.9 L925.8,474.6 L916.1,457.3 Z" fill="#e4e4e4" stroke="#2e2e2e" stroke-width="2.9" stroke-linejoin="miter"/>
<line x1="925.8" y1="474.6" x2="945.2" y2="474.6" stroke="#262626" stroke-width="7"/>
<path d="M959.5,382.7 L998.3,382.7 L998.3,423 L988.6,439.8 L998.3,456.6 L998.3,490.4 L959.5,490.4 L959.5,456.6 L969.2,439.8 L959.5,423 Z" fill="#b2b2b2" stroke="#2e2e2e" stroke-width="2.9" stroke-linejoin="miter"/>
<line x1="969.2" y1="439.8" x2="988.6" y2="439.8" stroke="#262626" stroke-width="7"/>
<path d="M1041.8,380.3 L1080.6,380.3 L1080.6,423 L1070.9,450 L1080.6,477 L1080.6,538 L1041.8,538 L1041.8,477 L1051.5,450 L1041.8,423 Z" fill="#e4e4e4" stroke="#2e2e2e" stroke-width="2.9" stroke-linejoin="miter"/>
<line x1="1051.5" y1="450" x2="1070.9" y2="450" stroke="#262626" stroke-width="7"/>
<path d="M1084.6,469.8 L1123.4,469.8 L1123.4,527.1 L1113.7,546.4 L1123.4,565.7 L1123.4,593.1 L1084.6,593.1 L1084.6,565.7 L1094.3,546.4 L1084.6,527.1 Z" fill="#b2b2b2" stroke="#2e2e2e" stroke-width="2.9" stroke-linejoin="miter"/>
<line x1="1094.3" y1="546.4" x2="1113.7" y2="546.4" stroke="#262626" stroke-width="7"/>
<path d="M1159.6,411 L1198.4,411 L1198.4,462.5 L1188.7,481.8 L1198.4,501.1 L1198.4,531.2 L1159.6,531.2 L1159.6,501.1 L1169.3,481.8 L1159.6,462.5 Z" fill="#e4e4e4" stroke="#2e2e2e" stroke-width="2.9" stroke-linejoin="miter"/>
<line x1="1169.3" y1="481.8" x2="1188.7" y2="481.8" stroke="#262626" stroke-width="7"/>
<path d="M1203.2,473.4 L1242,473.4 L1242,514 L1232.3,525.5 L1242,537 L1242,575.5 L1203.2,575.5 L1203.2,537 L1212.9,525.5 L1203.2,514 Z" fill="#b2b2b2" stroke="#2e2e2e" stroke-width="2.9" stroke-linejoin="miter"/>
<line x1="1212.9" y1="525.5" x2="1232.3" y2="525.5" stroke="#262626" stroke-width="7"/>
<path d="M1276.2,410.3 L1315,410.3 L1315,426 L1305.3,443 L1315,460 L1315,505.5 L1276.2,505.5 L1276.2,460 L1285.9,443 L1276.2,426 Z" fill="#e4e4e4" stroke="#2e2e2e" stroke-width="2.9" stroke-linejoin="miter"/>
<line x1="1285.9" y1="443" x2="1305.3" y2="443" stroke="#262626" stroke-width="7"/>
<path d="M1319.3,333.1 L1358.1,333.1 L1358.1,399.4 L1348.4,419.4 L1358.1,439.4 L1358.1,456.9 L1319.3,456.9 L1319.3,439.4 L1329,419.4 L1319.3,399.4 Z" fill="#b2b2b2" stroke="#2e2e2e" stroke-width="2.9" stroke-linejoin="miter"/>
<line x1="1329" y1="419.4" x2="1348.4" y2="419.4" stroke="#262626" stroke-width="7"/>
<path d="M1389.6,402.3 L1428.4,402.3 L1428.4,440.1 L1418.7,461.8 L1428.4,483.5 L1428.4,538.1 L1389.6,538.1 L1389.6,483.5 L1399.3,461.8 L1389.6,440.1 Z" fill="#e4e4e4" stroke="#2e2e2e" stroke-width="2.9" stroke-linejoin="miter"/>
<line x1="1399.3" y1="461.8" x2="1418.7" y2="461.8" stroke="#262626" stroke-width="7"/>
<path d="M1433.1,495.2 L1471.9,495.2 L1471.9,523.6 L1462.2,537.8 L1471.9,552 L1471.9,581 L1433.1,581 L1433.1,552 L1442.8,537.8 L1433.1,523.6 Z" fill="#b2b2b2" stroke="#2e2e2e" stroke-width="2.9" stroke-linejoin="miter"/>
<line x1="1442.8" y1="537.8" x2="1462.2" y2="537.8" stroke="#262626" stroke-width="7"/>
<path d="M822.2,457.4 L832.8,470.8 L822.2,484.2 L811.6,470.8 Z" fill="none" stroke="#0d0d0d" stroke-width="2.2" stroke-linejoin="miter"/>
<path d="M865.7,456.8 L876.3,470.2 L865.7,483.6 L855.1,470.2 Z" fill="none" stroke="#0d0d0d" stroke-width="2.2" stroke-linejoin="miter"/>
<path d="M935.5,458.9 L946.1,472.3 L935.5,485.7 L924.9,472.3 Z" fill="none" stroke="#0d0d0d" stroke-width="2.2" stroke-linejoin="miter"/>
<path d="M978.9,426.4 L989.5,439.8 L978.9,453.2 L968.3,439.8 Z" fill="none" stroke="#0d0d0d" stroke-width="2.2" stroke-linejoin="miter"/>
<path d="M1061.2,458.5 L1071.8,471.9 L1061.2,485.3 L1050.6,471.9 Z" fill="none" stroke="#0d0d0d" stroke-width="2.2" stroke-linejoin="miter"/>
<path d="M1104,532.6 L1114.6,546 L1104,559.4 L1093.4,546 Z" fill="none" stroke="#0d0d0d" stroke-width="2.2" stroke-linejoin="miter"/>
<path d="M1179,458.8 L1189.6,472.2 L1179,485.6 L1168.4,472.2 Z" fill="none" stroke="#0d0d0d" stroke-width="2.2" stroke-linejoin="miter"/>
<path d="M1222.6,513 L1233.2,526.4 L1222.6,539.8 L1212,526.4 Z" fill="none" stroke="#0d0d0d" stroke-width="2.2" stroke-linejoin="miter"/>
<path d="M1295.6,458.4 L1306.2,471.8 L1295.6,485.2 L1285,471.8 Z" fill="none" stroke="#0d0d0d" stroke-width="2.2" stroke-linejoin="miter"/>
<path d="M1338.7,397.8 L1349.3,411.2 L1338.7,424.6 L1328.1,411.2 Z" fill="none" stroke="#0d0d0d" stroke-width="2.2" stroke-linejoin="miter"/>
<path d="M1409,458.4 L1419.6,471.8 L1409,485.2 L1398.4,471.8 Z" fill="none" stroke="#0d0d0d" stroke-width="2.2" stroke-linejoin="miter"/>
<path d="M1452.5,525.9 L1463.1,539.3 L1452.5,552.7 L1441.9,539.3 Z" fill="none" stroke="#0d0d0d" stroke-width="2.2" stroke-linejoin="miter"/>
<text x="140.2" y="743.2" transform="rotate(-45 140.2 743.2)" text-anchor="middle" dominant-baseline="central" font-size="23.3" fill="#525252" stroke="#525252" stroke-width="0.25">miR-125b-5p</text>
<text x="245.1" y="743.2" transform="rotate(-45 245.1 743.2)" text-anchor="middle" dominant-baseline="central" font-size="23.3" fill="#525252" stroke="#525252" stroke-width="0.25">miR-501-3p</text>
<text x="347.5" y="743.2" transform="rotate(-45 347.5 743.2)" text-anchor="middle" dominant-baseline="central" font-size="23.3" fill="#525252" stroke="#525252" stroke-width="0.25">miR-132-5p</text>
<text x="451.1" y="743.2" transform="rotate(-45 451.1 743.2)" text-anchor="middle" dominant-baseline="central" font-size="23.3" fill="#525252" stroke="#525252" stroke-width="0.25">miR-138-5p</text>
<text x="559.8" y="743.2" transform="rotate(-45 559.8 743.2)" text-anchor="middle" dominant-baseline="central" font-size="23.3" fill="#525252" stroke="#525252" stroke-width="0.25">miR-195-5p</text>
<text x="658.1" y="743.2" transform="rotate(-45 658.1 743.2)" text-anchor="middle" dominant-baseline="central" font-size="23.3" fill="#525252" stroke="#525252" stroke-width="0.25">miR-129-5p</text>
<text x="850.3" y="752" transform="rotate(-45.5 850.3 752)" text-anchor="middle" dominant-baseline="central" font-size="23.6" fill="#525252" stroke="#525252" stroke-width="0.25">miR-125b-5p</text>
<text x="963.8" y="752" transform="rotate(-45.5 963.8 752)" text-anchor="middle" dominant-baseline="central" font-size="23.6" fill="#525252" stroke="#525252" stroke-width="0.25">miR-501-3p</text>
<text x="1088.7" y="752" transform="rotate(-45.5 1088.7 752)" text-anchor="middle" dominant-baseline="central" font-size="23.6" fill="#525252" stroke="#525252" stroke-width="0.25">miR-132-5p</text>
<text x="1207" y="752" transform="rotate(-45.5 1207 752)" text-anchor="middle" dominant-baseline="central" font-size="23.6" fill="#525252" stroke="#525252" stroke-width="0.25">miR-138-5p</text>
<text x="1323.6" y="752" transform="rotate(-45.5 1323.6 752)" text-anchor="middle" dominant-baseline="central" font-size="23.6" fill="#525252" stroke="#525252" stroke-width="0.25">miR-195-5p</text>
<text x="1436.6" y="752" transform="rotate(-45.5 1436.6 752)" text-anchor="middle" dominant-baseline="central" font-size="23.6" fill="#525252" stroke="#525252" stroke-width="0.25">miR-129-5p</text>
<text x="66.5" y="252" text-anchor="middle" dominant-baseline="central" font-size="23" fill="#a2a2a2">2</text>
<text x="66.5" y="471.9" text-anchor="middle" dominant-baseline="central" font-size="23" fill="#a2a2a2">1</text>
<text x="66.5" y="691" text-anchor="middle" dominant-baseline="central" font-size="23" fill="#a2a2a2">0</text>
<text x="780.5" y="252.2" text-anchor="middle" dominant-baseline="central" font-size="23" fill="#a2a2a2">2</text>
<text x="780.5" y="472.2" text-anchor="middle" dominant-baseline="central" font-size="23" fill="#a2a2a2">1</text>
<text x="780.5" y="691.7" text-anchor="middle" dominant-baseline="central" font-size="23" fill="#a2a2a2">0</text>
<text x="241.2" y="21.8" font-size="25" fill="#111" stroke="#111" stroke-width="0.45" textLength="321.6" lengthAdjust="spacing">(a) superior temporal gyrus</text>
<text x="1050.6" y="21.8" font-size="25" fill="#111" stroke="#111" stroke-width="0.45" textLength="238.9" lengthAdjust="spacing">(b) entorhinal cortex</text>
<text transform="translate(27.0 648.2) rotate(-90)" x="0" y="0" font-size="27.5" fill="#111" textLength="470" lengthAdjust="spacingAndGlyphs">Relatve quantity (AD cases vs. control)</text>
<text x="472.4" y="896.4" font-size="24.7" fill="#111" textLength="176.5" lengthAdjust="spacingAndGlyphs">Sample status:</text>
<text x="739" y="896.8" font-size="24.7" fill="#111" textLength="98" lengthAdjust="spacingAndGlyphs">controls</text>
<text x="932.6" y="896.8" font-size="24.7" fill="#111" textLength="64.6" lengthAdjust="spacingAndGlyphs">cases</text>
<line x1="701.4" y1="872.5" x2="701.4" y2="910" stroke="#151515" stroke-width="2.4" stroke-linecap="round"/>
<rect x="682.3" y="879.2" width="38.3" height="24.4" rx="1.5" fill="#efefef" stroke="#151515" stroke-width="2.3"/>
<line x1="682.3" y1="891.4" x2="720.6" y2="891.4" stroke="#151515" stroke-width="2"/>
<path d="M701.4,881.9 L710.9,891.4 L701.4,900.9 L691.9,891.4 Z" fill="none" stroke="#0d0d0d" stroke-width="2.2"/>
<line x1="891.2" y1="872.5" x2="891.2" y2="910" stroke="#151515" stroke-width="2.4" stroke-linecap="round"/>
<rect x="872.8" y="879.2" width="36.8" height="24" rx="1.5" fill="#c4c4c4" stroke="#151515" stroke-width="2.3"/>
<line x1="872.8" y1="891" x2="909.6" y2="891" stroke="#151515" stroke-width="2"/>
<path d="M891.2,881.5 L900.7,891 L891.2,900.5 L881.7,891 Z" fill="none" stroke="#0d0d0d" stroke-width="2.2"/>
<ellipse cx="710.4" cy="794.4" rx="1.1" ry="1.6" fill="#c4c4c4"/>
<ellipse cx="1490.8" cy="793.6" rx="1.1" ry="1.6" fill="#c4c4c4"/>
<ellipse cx="398.5" cy="783.8" rx="1.1" ry="1.6" fill="#c4c4c4"/>
</g></svg>
</body></html>
